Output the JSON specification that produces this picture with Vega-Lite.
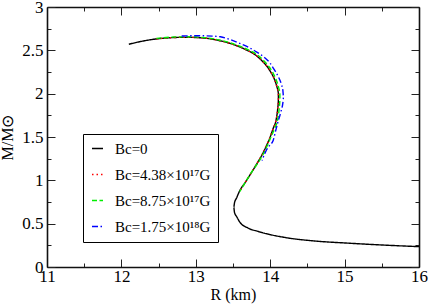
{
  "$schema": "https://vega.github.io/schema/vega-lite/v6.json",
  "width": 372,
  "height": 260,
  "autosize": {"type": "none"},
  "padding": {"left": 47, "top": 7, "right": 10, "bottom": 38},
  "config": {
    "font": "Liberation Serif",
    "view": {"stroke": null},
    "style": {"guide-label": {"font": "Liberation Serif"}, "guide-title": {"font": "Liberation Serif"}},
    "axis": {"grid": false, "domainColor": "#111", "domainWidth": 1.6, "tickColor": "#222", "tickWidth": 1, "labelColor": "black", "titleColor": "black", "labelFontWeight": "normal", "titleFontWeight": "normal", "labelFont": "Liberation Serif", "titleFont": "Liberation Serif"},
    "legend": {"labelFont": "Liberation Serif"}
  },
  "datasets": {
    "curves": [
      {"s": "Bc=0", "i": 1, "R": 12.10, "M": 2.57},
      {"s": "Bc=0", "i": 2, "R": 12.25, "M": 2.60},
      {"s": "Bc=0", "i": 3, "R": 12.42, "M": 2.626},
      {"s": "Bc=0", "i": 4, "R": 12.60, "M": 2.642},
      {"s": "Bc=0", "i": 5, "R": 12.75, "M": 2.649},
      {"s": "Bc=0", "i": 6, "R": 12.90, "M": 2.650},
      {"s": "Bc=0", "i": 7, "R": 13.06, "M": 2.645},
      {"s": "Bc=0", "i": 8, "R": 13.20, "M": 2.632},
      {"s": "Bc=0", "i": 9, "R": 13.33, "M": 2.61},
      {"s": "Bc=0", "i": 10, "R": 13.46, "M": 2.58},
      {"s": "Bc=0", "i": 11, "R": 13.59, "M": 2.54},
      {"s": "Bc=0", "i": 12, "R": 13.69, "M": 2.50},
      {"s": "Bc=0", "i": 13, "R": 13.77, "M": 2.465},
      {"s": "Bc=0", "i": 14, "R": 13.90, "M": 2.37},
      {"s": "Bc=0", "i": 15, "R": 13.97, "M": 2.30},
      {"s": "Bc=0", "i": 16, "R": 14.02, "M": 2.23},
      {"s": "Bc=0", "i": 17, "R": 14.06, "M": 2.16},
      {"s": "Bc=0", "i": 18, "R": 14.09, "M": 2.08},
      {"s": "Bc=0", "i": 19, "R": 14.11, "M": 2.00},
      {"s": "Bc=0", "i": 20, "R": 14.11, "M": 1.93},
      {"s": "Bc=0", "i": 21, "R": 14.10, "M": 1.82},
      {"s": "Bc=0", "i": 22, "R": 14.08, "M": 1.70},
      {"s": "Bc=0", "i": 23, "R": 14.04, "M": 1.60},
      {"s": "Bc=0", "i": 24, "R": 14.00, "M": 1.50},
      {"s": "Bc=0", "i": 25, "R": 13.95, "M": 1.40},
      {"s": "Bc=0", "i": 26, "R": 13.90, "M": 1.31},
      {"s": "Bc=0", "i": 27, "R": 13.84, "M": 1.22},
      {"s": "Bc=0", "i": 28, "R": 13.77, "M": 1.12},
      {"s": "Bc=0", "i": 29, "R": 13.66, "M": 0.97},
      {"s": "Bc=0", "i": 30, "R": 13.59, "M": 0.88},
      {"s": "Bc=0", "i": 31, "R": 13.55, "M": 0.80},
      {"s": "Bc=0", "i": 32, "R": 13.52, "M": 0.74},
      {"s": "Bc=0", "i": 33, "R": 13.51, "M": 0.69},
      {"s": "Bc=0", "i": 34, "R": 13.52, "M": 0.63},
      {"s": "Bc=0", "i": 35, "R": 13.55, "M": 0.58},
      {"s": "Bc=0", "i": 36, "R": 13.59, "M": 0.52},
      {"s": "Bc=0", "i": 37, "R": 13.70, "M": 0.45},
      {"s": "Bc=0", "i": 38, "R": 13.84, "M": 0.41},
      {"s": "Bc=0", "i": 39, "R": 13.97, "M": 0.38},
      {"s": "Bc=0", "i": 40, "R": 14.24, "M": 0.335},
      {"s": "Bc=0", "i": 41, "R": 14.60, "M": 0.30},
      {"s": "Bc=0", "i": 42, "R": 15.05, "M": 0.275},
      {"s": "Bc=0", "i": 43, "R": 15.50, "M": 0.254},
      {"s": "Bc=0", "i": 44, "R": 16.00, "M": 0.235},

      {"s": "Bc=4.38×10¹⁷G", "i": 1, "R": 12.47, "M": 2.632},
      {"s": "Bc=4.38×10¹⁷G", "i": 2, "R": 12.60, "M": 2.642},
      {"s": "Bc=4.38×10¹⁷G", "i": 3, "R": 12.75, "M": 2.649},
      {"s": "Bc=4.38×10¹⁷G", "i": 4, "R": 12.90, "M": 2.650},
      {"s": "Bc=4.38×10¹⁷G", "i": 5, "R": 13.06, "M": 2.645},
      {"s": "Bc=4.38×10¹⁷G", "i": 6, "R": 13.20, "M": 2.632},
      {"s": "Bc=4.38×10¹⁷G", "i": 7, "R": 13.33, "M": 2.61},
      {"s": "Bc=4.38×10¹⁷G", "i": 8, "R": 13.46, "M": 2.58},
      {"s": "Bc=4.38×10¹⁷G", "i": 9, "R": 13.59, "M": 2.54},
      {"s": "Bc=4.38×10¹⁷G", "i": 10, "R": 13.69, "M": 2.50},
      {"s": "Bc=4.38×10¹⁷G", "i": 11, "R": 13.77, "M": 2.465},
      {"s": "Bc=4.38×10¹⁷G", "i": 12, "R": 13.90, "M": 2.37},
      {"s": "Bc=4.38×10¹⁷G", "i": 13, "R": 13.97, "M": 2.30},
      {"s": "Bc=4.38×10¹⁷G", "i": 14, "R": 14.02, "M": 2.23},
      {"s": "Bc=4.38×10¹⁷G", "i": 15, "R": 14.06, "M": 2.16},
      {"s": "Bc=4.38×10¹⁷G", "i": 16, "R": 14.09, "M": 2.08},
      {"s": "Bc=4.38×10¹⁷G", "i": 17, "R": 14.11, "M": 2.00},
      {"s": "Bc=4.38×10¹⁷G", "i": 18, "R": 14.11, "M": 1.93},
      {"s": "Bc=4.38×10¹⁷G", "i": 19, "R": 14.10, "M": 1.82},
      {"s": "Bc=4.38×10¹⁷G", "i": 20, "R": 14.08, "M": 1.70},
      {"s": "Bc=4.38×10¹⁷G", "i": 21, "R": 14.04, "M": 1.60},
      {"s": "Bc=4.38×10¹⁷G", "i": 22, "R": 14.00, "M": 1.50},
      {"s": "Bc=4.38×10¹⁷G", "i": 23, "R": 13.95, "M": 1.40},
      {"s": "Bc=4.38×10¹⁷G", "i": 24, "R": 13.90, "M": 1.31},
      {"s": "Bc=4.38×10¹⁷G", "i": 25, "R": 13.84, "M": 1.22},
      {"s": "Bc=4.38×10¹⁷G", "i": 26, "R": 13.77, "M": 1.12},
      {"s": "Bc=4.38×10¹⁷G", "i": 27, "R": 13.66, "M": 0.97},
      {"s": "Bc=4.38×10¹⁷G", "i": 28, "R": 13.59, "M": 0.87},

      {"s": "Bc=8.75×10¹⁷G", "i": 1, "R": 12.47, "M": 2.638},
      {"s": "Bc=8.75×10¹⁷G", "i": 2, "R": 12.60, "M": 2.648},
      {"s": "Bc=8.75×10¹⁷G", "i": 3, "R": 12.75, "M": 2.655},
      {"s": "Bc=8.75×10¹⁷G", "i": 4, "R": 12.90, "M": 2.656},
      {"s": "Bc=8.75×10¹⁷G", "i": 5, "R": 13.06, "M": 2.651},
      {"s": "Bc=8.75×10¹⁷G", "i": 6, "R": 13.20, "M": 2.638},
      {"s": "Bc=8.75×10¹⁷G", "i": 7, "R": 13.33, "M": 2.617},
      {"s": "Bc=8.75×10¹⁷G", "i": 8, "R": 13.46, "M": 2.588},
      {"s": "Bc=8.75×10¹⁷G", "i": 9, "R": 13.59, "M": 2.548},
      {"s": "Bc=8.75×10¹⁷G", "i": 10, "R": 13.70, "M": 2.508},
      {"s": "Bc=8.75×10¹⁷G", "i": 11, "R": 13.79, "M": 2.47},
      {"s": "Bc=8.75×10¹⁷G", "i": 12, "R": 13.92, "M": 2.375},
      {"s": "Bc=8.75×10¹⁷G", "i": 13, "R": 13.99, "M": 2.305},
      {"s": "Bc=8.75×10¹⁷G", "i": 14, "R": 14.04, "M": 2.235},
      {"s": "Bc=8.75×10¹⁷G", "i": 15, "R": 14.08, "M": 2.16},
      {"s": "Bc=8.75×10¹⁷G", "i": 16, "R": 14.11, "M": 2.08},
      {"s": "Bc=8.75×10¹⁷G", "i": 17, "R": 14.13, "M": 2.00},
      {"s": "Bc=8.75×10¹⁷G", "i": 18, "R": 14.13, "M": 1.93},
      {"s": "Bc=8.75×10¹⁷G", "i": 19, "R": 14.12, "M": 1.82},
      {"s": "Bc=8.75×10¹⁷G", "i": 20, "R": 14.10, "M": 1.70},
      {"s": "Bc=8.75×10¹⁷G", "i": 21, "R": 14.06, "M": 1.60},
      {"s": "Bc=8.75×10¹⁷G", "i": 22, "R": 14.01, "M": 1.50},
      {"s": "Bc=8.75×10¹⁷G", "i": 23, "R": 13.96, "M": 1.40},
      {"s": "Bc=8.75×10¹⁷G", "i": 24, "R": 13.91, "M": 1.31},
      {"s": "Bc=8.75×10¹⁷G", "i": 25, "R": 13.85, "M": 1.22},
      {"s": "Bc=8.75×10¹⁷G", "i": 26, "R": 13.77, "M": 1.12},
      {"s": "Bc=8.75×10¹⁷G", "i": 27, "R": 13.66, "M": 0.97},
      {"s": "Bc=8.75×10¹⁷G", "i": 28, "R": 13.59, "M": 0.87},

      {"s": "Bc=1.75×10¹⁸G", "i": 1, "R": 12.81, "M": 2.665},
      {"s": "Bc=1.75×10¹⁸G", "i": 2, "R": 12.95, "M": 2.668},
      {"s": "Bc=1.75×10¹⁸G", "i": 3, "R": 13.10, "M": 2.668},
      {"s": "Bc=1.75×10¹⁸G", "i": 4, "R": 13.22, "M": 2.664},
      {"s": "Bc=1.75×10¹⁸G", "i": 5, "R": 13.33, "M": 2.656},
      {"s": "Bc=1.75×10¹⁸G", "i": 6, "R": 13.46, "M": 2.625},
      {"s": "Bc=1.75×10¹⁸G", "i": 7, "R": 13.59, "M": 2.58},
      {"s": "Bc=1.75×10¹⁸G", "i": 8, "R": 13.72, "M": 2.53},
      {"s": "Bc=1.75×10¹⁸G", "i": 9, "R": 13.82, "M": 2.48},
      {"s": "Bc=1.75×10¹⁸G", "i": 10, "R": 13.92, "M": 2.42},
      {"s": "Bc=1.75×10¹⁸G", "i": 11, "R": 14.00, "M": 2.35},
      {"s": "Bc=1.75×10¹⁸G", "i": 12, "R": 14.06, "M": 2.27},
      {"s": "Bc=1.75×10¹⁸G", "i": 13, "R": 14.11, "M": 2.195},
      {"s": "Bc=1.75×10¹⁸G", "i": 14, "R": 14.15, "M": 2.11},
      {"s": "Bc=1.75×10¹⁸G", "i": 15, "R": 14.17, "M": 2.04},
      {"s": "Bc=1.75×10¹⁸G", "i": 16, "R": 14.18, "M": 1.96},
      {"s": "Bc=1.75×10¹⁸G", "i": 17, "R": 14.17, "M": 1.89},
      {"s": "Bc=1.75×10¹⁸G", "i": 18, "R": 14.14, "M": 1.78},
      {"s": "Bc=1.75×10¹⁸G", "i": 19, "R": 14.10, "M": 1.66},
      {"s": "Bc=1.75×10¹⁸G", "i": 20, "R": 14.07, "M": 1.56},
      {"s": "Bc=1.75×10¹⁸G", "i": 21, "R": 14.04, "M": 1.46},
      {"s": "Bc=1.75×10¹⁸G", "i": 22, "R": 13.99, "M": 1.40},
      {"s": "Bc=1.75×10¹⁸G", "i": 23, "R": 13.95, "M": 1.35},
      {"s": "Bc=1.75×10¹⁸G", "i": 24, "R": 13.89, "M": 1.23}
    ]
  },
  "data": {"name": "curves"},
  "resolve": {"axis": {"x": "independent", "y": "independent"}},
  "layer": [
    {
      "mark": {"type": "line", "strokeWidth": 1.4, "interpolate": "monotone"},
      "encoding": {
        "x": {"field": "R", "type": "quantitative", "scale": {"domain": [11, 16], "nice": false, "zero": false},
          "axis": {"orient": "bottom", "title": "R (km)", "values": [11, 11.5, 12, 12.5, 13, 13.5, 14, 14.5, 15, 15.5, 16],
            "labelExpr": "datum.value % 1 === 0 ? toString(datum.value) : ''",
            "tickSize": {"condition": {"test": "datum.value % 1 === 0", "value": -8}, "value": -4},
            "labelFont": "Liberation Serif", "titleFont": "Liberation Serif",
            "labelPadding": 9, "labelFontSize": 17, "labelFlush": false, "labelOverlap": false, "labelBound": false,
            "titleFontSize": 16, "titlePadding": -2}},
        "y": {"field": "M", "type": "quantitative", "scale": {"domain": [0, 3], "nice": false, "zero": false},
          "axis": {"orient": "left", "title": "M/M⊙", "values": [0, 0.25, 0.5, 0.75, 1, 1.25, 1.5, 1.75, 2, 2.25, 2.5, 2.75, 3],
            "labelExpr": "datum.value % 0.5 === 0 ? toString(datum.value) : ''",
            "tickSize": {"condition": {"test": "datum.value % 0.5 === 0", "value": -8}, "value": -4},
            "labelFont": "Liberation Serif", "titleFont": "Liberation Serif",
            "labelPadding": 12, "labelFontSize": 17, "labelFlush": false, "labelOverlap": false, "labelBound": false,
            "titleFontSize": 16, "titlePadding": 6}},
        "order": {"field": "i", "type": "quantitative"},
        "color": {"field": "s", "type": "nominal",
          "scale": {"domain": ["Bc=0", "Bc=4.38×10¹⁷G", "Bc=8.75×10¹⁷G", "Bc=1.75×10¹⁸G"], "range": ["#000000", "#ff0000", "#00ee00", "#0000ff"]},
          "legend": {"title": null, "orient": "none", "legendX": 36, "legendY": 127, "strokeColor": "black", "fillColor": "white",
            "padding": 7, "symbolType": "stroke", "symbolSize": 121, "symbolStrokeWidth": 1.5, "labelFontSize": 15,
            "labelColor": "black", "rowPadding": 10, "labelOffset": 10, "labelLimit": 300}},
        "strokeDash": {"field": "s", "type": "nominal",
          "scale": {"domain": ["Bc=0", "Bc=4.38×10¹⁷G", "Bc=8.75×10¹⁷G", "Bc=1.75×10¹⁸G"], "range": [[1, 0], [1.5, 3], [5, 2.5], [6, 2.5, 1.5, 2.5]]},
          "legend": null}
      }
    },
    {
      "mark": {"type": "point", "opacity": 0},
      "encoding": {
        "x": {"field": "R", "type": "quantitative", "scale": {"domain": [11, 16], "nice": false, "zero": false},
          "axis": {"orient": "top", "title": null, "labels": false, "values": [11, 11.5, 12, 12.5, 13, 13.5, 14, 14.5, 15, 15.5, 16],
            "tickSize": {"condition": {"test": "datum.value % 1 === 0", "value": -8}, "value": -4}}},
        "y": {"field": "M", "type": "quantitative", "scale": {"domain": [0, 3], "nice": false, "zero": false},
          "axis": {"orient": "right", "title": null, "labels": false, "values": [0, 0.25, 0.5, 0.75, 1, 1.25, 1.5, 1.75, 2, 2.25, 2.5, 2.75, 3],
            "tickSize": {"condition": {"test": "datum.value % 0.5 === 0", "value": -8}, "value": -4}}}
      }
    }
  ]
}
